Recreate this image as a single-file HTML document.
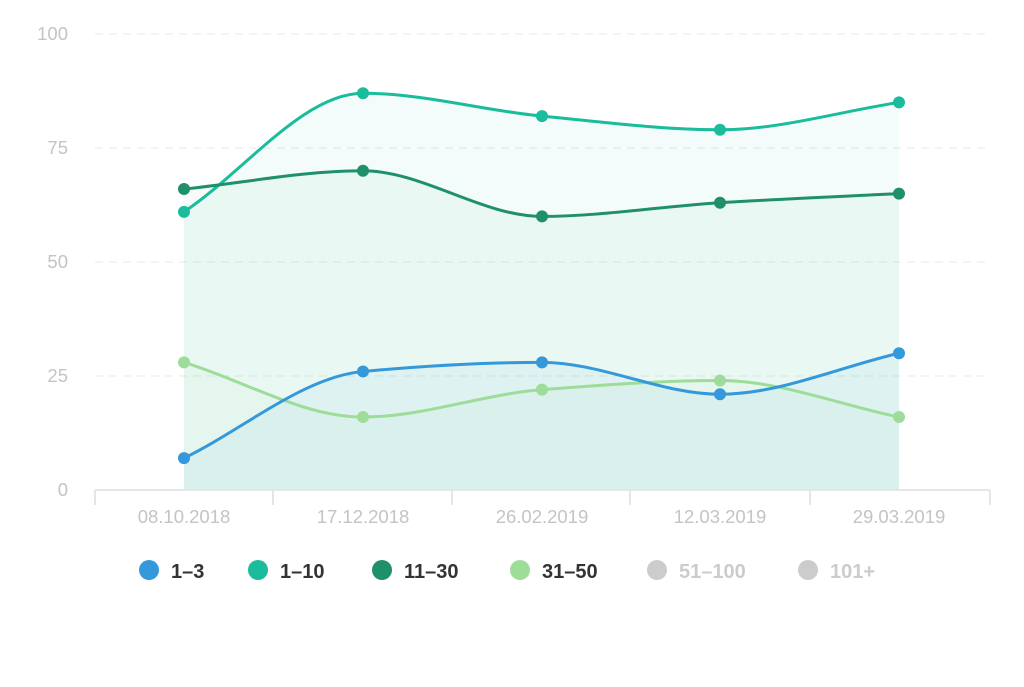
<!DOCTYPE html>
<html><head><meta charset="utf-8"><style>
body{margin:0;background:#fff;width:1024px;height:682px;overflow:hidden}
svg text{font-family:"Liberation Sans","DejaVu Sans",sans-serif}
</style></head><body>
<svg id="c" width="1024" height="682" xmlns="http://www.w3.org/2000/svg">
<g stroke="#e8e8e8" stroke-dasharray="8,6" stroke-width="1">
<line x1="95" x2="990" y1="34" y2="34"/><line x1="95" x2="990" y1="148" y2="148"/>
<line x1="95" x2="990" y1="262" y2="262"/><line x1="95" x2="990" y1="376" y2="376"/>
</g>
<g fill="#c4c4c4" font-size="18.5" text-anchor="end">
<text x="68" y="40">100</text><text x="68" y="154">75</text><text x="68" y="268">50</text><text x="68" y="382">25</text><text x="68" y="496">0</text>
</g>
<g id="areas"></g><g id="lines"></g>
<g stroke="#e6e6e6" stroke-width="2">
<line x1="95" x2="990" y1="490" y2="490"/>
<line x1="95" x2="95" y1="490" y2="505"/><line x1="273" x2="273" y1="490" y2="505"/>
<line x1="452" x2="452" y1="490" y2="505"/><line x1="630" x2="630" y1="490" y2="505"/>
<line x1="810" x2="810" y1="490" y2="505"/><line x1="990" x2="990" y1="490" y2="505"/>
</g>
<g fill="#c4c4c4" font-size="18.5" text-anchor="middle">
<text x="184" y="523">08.10.2018</text><text x="363" y="523">17.12.2018</text><text x="542" y="523">26.02.2019</text><text x="720" y="523">12.03.2019</text><text x="899" y="523">29.03.2019</text>
</g>
<g font-size="20" font-weight="bold">
<circle cx="149" cy="570" r="10" fill="#3498db"/><text x="171" y="578" fill="#333">1–3</text>
<circle cx="258" cy="570" r="10" fill="#1abc9c"/><text x="280" y="578" fill="#333">1–10</text>
<circle cx="382" cy="570" r="10" fill="#20906b"/><text x="404" y="578" fill="#333">11–30</text>
<circle cx="520" cy="570" r="10" fill="#9edc99"/><text x="542" y="578" fill="#333">31–50</text>
<circle cx="657" cy="570" r="10" fill="#cccccc"/><text x="679" y="578" fill="#cccccc">51–100</text>
<circle cx="808" cy="570" r="10" fill="#cccccc"/><text x="830" y="578" fill="#cccccc">101+</text>
</g>
</svg>
<script>
var X=[184,363,542,720,899];
var S=[
{v:[61,87,82,79,85],c:"#1abc9c",f:"rgba(26,188,156,0.05)"},
{v:[66,70,60,63,65],c:"#20906b",f:"rgba(32,144,107,0.04)"},
{v:[28,16,22,24,16],c:"#9edc99",f:"rgba(158,220,153,0.06)"},
{v:[7,26,28,21,30],c:"#3498db",f:"rgba(52,152,219,0.06)"}];
function Y(v){return 490-4.56*v}
function path(p){var n=p.length,d=[],m=[];
for(var i=0;i<n-1;i++)d.push((p[i+1][1]-p[i][1])/(p[i+1][0]-p[i][0]));
m[0]=d[0];m[n-1]=d[n-2];
for(i=1;i<n-1;i++){m[i]=(d[i-1]*d[i]<=0)?0:2/(1/d[i-1]+1/d[i]);}
var s="M"+p[0][0]+","+p[0][1];
for(i=0;i<n-1;i++){var h=(p[i+1][0]-p[i][0])/3;
s+=" C"+(p[i][0]+h)+","+(p[i][1]+m[i]*h)+" "+(p[i+1][0]-h)+","+(p[i+1][1]-m[i+1]*h)+" "+p[i+1][0]+","+p[i+1][1];}
return s;}
var A="",L="";
S.forEach(function(s){var p=s.v.map(function(v,i){return[X[i],Y(v)]});var d=path(p);
A+='<path d="'+d+' L899,490 L184,490 Z" fill="'+s.f+'"/>';
L+='<path d="'+d+'" fill="none" stroke="'+s.c+'" stroke-width="3"/>';
p.forEach(function(q){L+='<circle cx="'+q[0]+'" cy="'+q[1]+'" r="6" fill="'+s.c+'"/>'});});
document.getElementById("areas").innerHTML=A;
document.getElementById("lines").innerHTML=L;
</script>
</body></html>
